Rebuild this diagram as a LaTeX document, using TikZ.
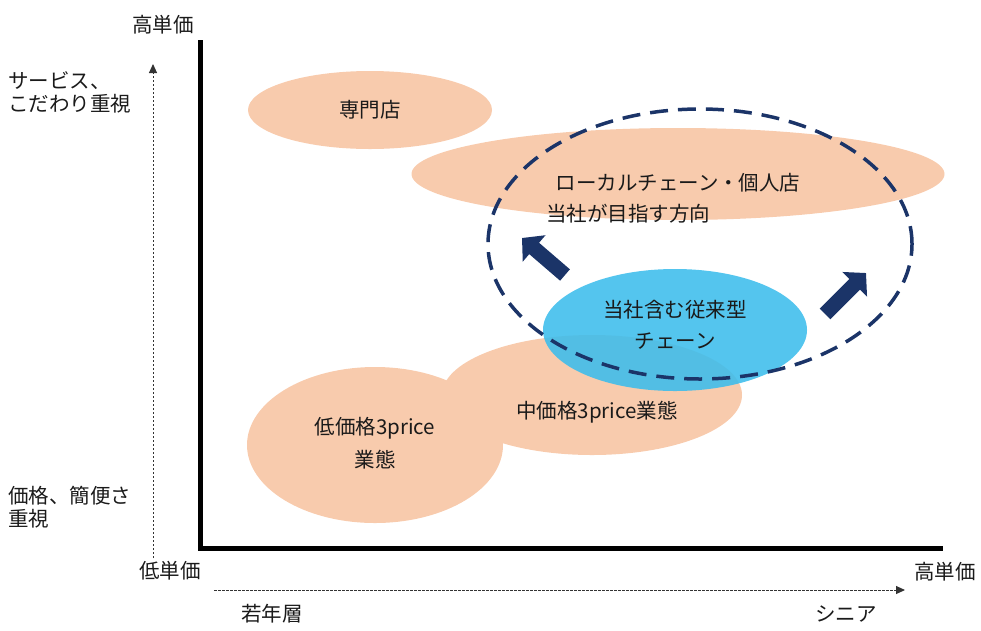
\documentclass[tikz,border=0pt]{standalone}
\usepackage{fontspec}
\setmainfont{Noto Sans CJK JP}
\usetikzlibrary{shapes.geometric,arrows.meta}
\definecolor{peach}{HTML}{F8CBAD}
\definecolor{skyb}{HTML}{3CBDEC}
\definecolor{navy}{HTML}{1B3468}
\definecolor{txt}{HTML}{1A1A1A}
\tikzset{
  blob/.style={ellipse, draw=none, inner sep=0pt},
  lbl/.style={font=\fontsize{20.5}{24}\selectfont, text=txt, inner sep=0pt, align=center},
  thinarrow/.style={draw=black!80, line width=1pt, dash pattern=on 2.5pt off 1.5pt, -{Triangle[length=9pt,width=8pt]}},
  axis/.style={line width=5pt},
  bigarrow/.style={draw=navy, line width=15pt, -{Triangle[length=16pt,width=34pt]}}
}
\begin{document}
\begin{tikzpicture}[x=1pt,y=-1pt]
\useasboundingbox (0,0) rectangle (981,630);
% ellipses
\node[blob, fill=peach, minimum width=244pt, minimum height=78pt] (spec) at (370,110) {};
\node[blob, fill=peach, minimum width=533pt, minimum height=92pt] (local) at (678,174) {};
\node[blob, fill=peach, minimum width=300pt, minimum height=120pt] (mid) at (592,395) {};
\node[blob, fill=peach, minimum width=256pt, minimum height=156pt] (low) at (375,445) {};
\node[blob, fill=skyb, fill opacity=0.88, minimum width=264pt, minimum height=122pt] (conv) at (675,330) {};
\node[ellipse, draw=navy, line width=3.5pt, dash pattern=on 18pt off 10pt, minimum width=424pt, minimum height=270pt] (goal) at (700,244) {};
% labels
\node[lbl] (tspec) at (370,110) {専門店};
\node[lbl] (tlocal) at (678,183) {ローカルチェーン・個人店};
\node[lbl] (tgoal) at (628,214) {当社が目指す方向};
\node[lbl] (tconv1) at (675,310) {当社含む従来型};
\node[lbl] (tconv2) at (675,341) {チェーン};
\node[lbl] (tmid) at (597,412) {中価格3price業態};
\node[lbl] (tlow1) at (375,428) {低価格3price};
\node[lbl] (tlow2) at (375,460) {業態};
% axes
\coordinate (ytop) at (200,40);
\coordinate (orig) at (200,548);
\coordinate (xend) at (943,548);
\draw[axis] (ytop) -- (orig.center) -- (xend);
% guide arrows
\coordinate (vb) at (153,558);
\coordinate (vt) at (153,64);
\coordinate (hl) at (214,590);
\coordinate (hr) at (905,590);
\draw[thinarrow] (vb) -- (vt);
\draw[thinarrow] (hl) -- (hr);
% axis labels
\node[lbl] (hiY) at (163,25) {高単価};
\node[lbl] (loY) at (170,571) {低単価};
\node[lbl] (hiX) at (945,572) {高単価};
\node[lbl] (young) at (272,614) {若年層};
\node[lbl] (senior) at (846,614) {シニア};
\node[lbl, anchor=west, align=left] (svc) at (8,92) {サービス、\\[-1pt]こだわり重視};
\node[lbl, anchor=west, align=left] (price) at (8,507) {価格、簡便さ\\[-1pt]重視};
% direction arrows
\coordinate (la0) at (565,275);
\coordinate (la1) at (522,238);
\coordinate (ra0) at (825,314);
\coordinate (ra1) at (866,273);
\draw[bigarrow] (la0) -- (la1);
\draw[bigarrow] (ra0) -- (ra1);
\end{tikzpicture}
\end{document}
